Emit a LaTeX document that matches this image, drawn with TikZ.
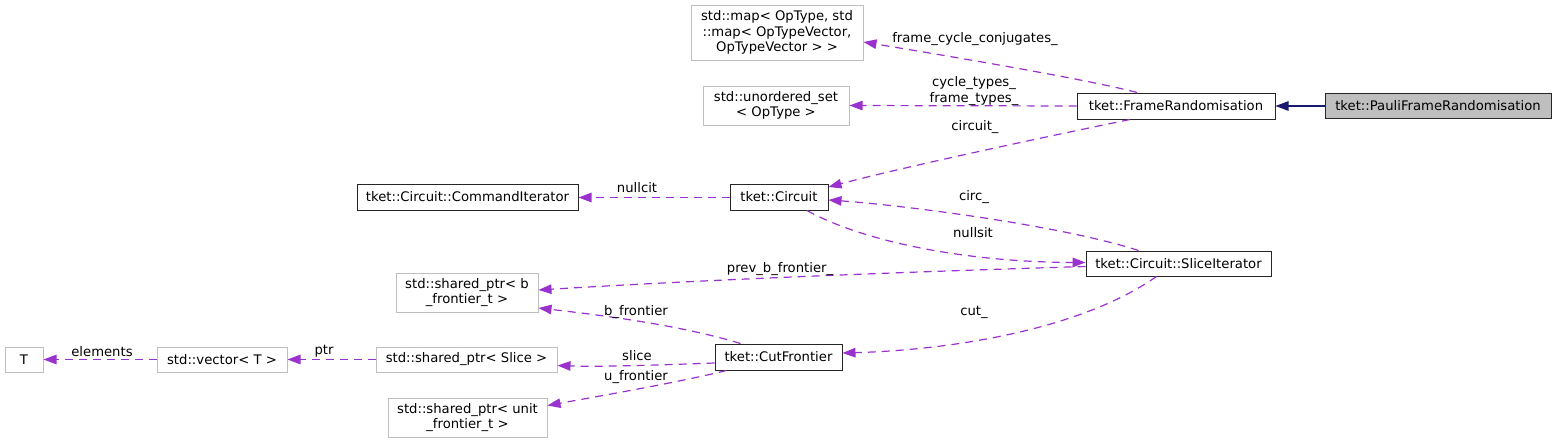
\documentclass[tikz,border=0pt]{standalone}
\usepackage{fontspec}
\setmainfont{DejaVu Sans}
\usetikzlibrary{arrows.meta,calc}
\definecolor{edgep}{HTML}{9A32CD}
\definecolor{navyb}{HTML}{191970}
\definecolor{grayb}{HTML}{BFBFBF}
\begin{document}
\begin{tikzpicture}[x=1pt,y=-1pt,font=\fontsize{13.2}{15.2}\selectfont,
  cls/.style={draw=black!85,line width=1pt,fill=white,inner sep=0pt,align=center,minimum height=26pt},
  ext/.style={draw=grayb,line width=1pt,fill=white,inner sep=0pt,align=center,minimum height=26pt},
  dep/.style={edgep,line width=1.2pt,dash pattern=on 8pt off 6pt,-{Triangle[length=13pt,width=9.5pt]}},
  inh/.style={navyb,line width=1.2pt,-{Triangle[length=13pt,width=9.5pt]}},
  lbl/.style={inner sep=0pt,align=center}]
\useasboundingbox (0,0) rectangle (1556,445);
% nodes
\node[cls,fill=grayb,minimum width=226pt,minimum height=25pt] (pauli) at (1438,106) {tket::PauliFrameRandomisation};
\node[cls,minimum width=198pt] (frame) at (1176,106) {tket::FrameRandomisation};
\node[ext,minimum width=172pt,minimum height=55pt] (map) at (777,32.5) {std::map< OpType, std\\::map< OpTypeVector,\\ OpTypeVector > >};
\node[ext,minimum width=146pt,minimum height=39pt] (uset) at (776,105.5) {std::unordered\_set\\< OpType >};
\node[cls,minimum width=98pt] (circuit) at (779,197) {tket::Circuit};
\node[cls,minimum width=221pt] (cmditer) at (467.5,197) {tket::Circuit::CommandIterator};
\node[cls,minimum width=185pt,minimum height=25pt] (slice) at (1178.5,263.5) {tket::Circuit::SliceIterator};
\node[ext,minimum width=142pt,minimum height=39pt] (bfront) at (467,292.5) {std::shared\_ptr< b\\\_frontier\_t >};
\node[cls,minimum width=127pt] (cut) at (778.5,357) {tket::CutFrontier};
\node[ext,minimum width=38pt,minimum height=25pt] (T) at (24,359.5) {T};
\node[ext,minimum width=130pt,minimum height=25pt] (vec) at (222,359.5) {std::vector< T >};
\node[ext,minimum width=181pt,minimum height=25pt] (sslice) at (466.5,359.5) {std::shared\_ptr< Slice >};
\node[ext,minimum width=159pt,minimum height=39pt] (ufront) at (467.5,417.5) {std::shared\_ptr< unit\\\_frontier\_t >};
% edges
\draw[inh] (pauli.west) -- (frame.east);
\draw[dep] ($(frame.north)+(-39,0)$) .. controls (1090,80) and (960,58) .. ($(map.east)+(0,9.5)$);
\draw[dep] (frame.west) -- (uset.east);
\draw[dep] ($(frame.south)+(-46,0)$) .. controls (1030,140) and (900,168) .. ($(circuit.east)+(0,-10)$);
\draw[dep] ($(slice.north)+(-40,0)$) .. controls (1060,225) and (900,205) .. ($(circuit.east)+(0,3)$);
\draw[dep] ($(circuit.south)+(28,0)$) .. controls (860,240) and (960,262) .. ($(slice.west)+(0,-1)$);
\draw[dep] ($(slice.west)+(0,3)$) .. controls (900,272) and (700,280) .. ($(bfront.east)+(0,-2.5)$);
\draw[dep] ($(circuit.west)+(0,0.5)$) -- ($(cmditer.east)+(0,0.5)$);
\draw[dep] ($(slice.south)+(-22,0)$) .. controls (1080,330) and (950,350) .. ($(cut.east)+(0,-4)$);
\draw[dep] ($(cut.north)+(-38,0)$) .. controls (680,325) and (600,315) .. ($(bfront.east)+(0,15.5)$);
\draw[dep] ($(cut.west)+(0,6)$) .. controls (660,365) and (600,367) .. ($(sslice.east)+(0,6)$);
\draw[dep] ($(cut.south)+(-52,0)$) .. controls (680,382) and (600,396) .. ($(ufront.east)+(0,-12)$);
\draw[dep] (sslice.west) -- (vec.east);
\draw[dep] (vec.west) -- (T.east);
% labels
\node[lbl] (l1) at (975,39) {frame\_cycle\_conjugates\_};
\node[lbl] (l2) at (974,91) {cycle\_types\_\\frame\_types\_};
\node[lbl] (l3) at (975,127) {circuit\_};
\node[lbl] (l4) at (637,188) {nullcit};
\node[lbl] (l5) at (974,197) {circ\_};
\node[lbl] (l6) at (973,233) {nullsit};
\node[lbl] (l7) at (780,269) {prev\_b\_frontier\_};
\node[lbl] (l8) at (636,312) {b\_frontier};
\node[lbl] (l9) at (974,312) {cut\_};
\node[lbl] (l10) at (637,356) {slice};
\node[lbl] (l11) at (636,377) {u\_frontier};
\node[lbl] (l12) at (324,351) {ptr};
\node[lbl] (l13) at (102,352) {elements};
\end{tikzpicture}
\end{document}
